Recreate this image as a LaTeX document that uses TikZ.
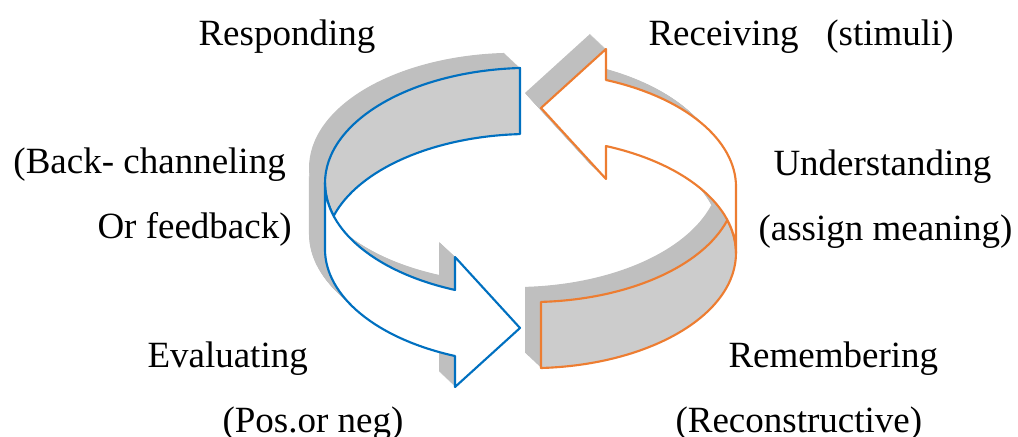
\documentclass[tikz,border=0pt]{standalone}
\usepackage{fontspec}
\setmainfont{Liberation Serif}

\definecolor{ribbonblue}{RGB}{0,112,192}
\definecolor{ribbonorange}{RGB}{237,125,49}

% far half of the band (inner wall) and near half with the head (outer wall)
\newcommand{\ribbonback}{(520,68) arc[start angle=267.07, end angle=163.3, x radius=205.5, y radius=115] arc[start angle=196.7, end angle=267.07, x radius=205.5, y radius=115] -- cycle}
\newcommand{\ribbonfront}{(325,183) arc[start angle=180, end angle=111.55, x radius=205.5, y radius=115] -- (455,257) -- (520,328) -- (455,387) -- (455,356) arc[start angle=111.55, end angle=180, x radius=205.5, y radius=115] -- cycle}

\tikzset{every picture/.style={line width=0.75pt},
  ribbonside/.style={fill={rgb,255:red,191;green,191;blue,191}, draw=none},
  ribbonwall/.style={fill={rgb,255:red,204;green,204;blue,204}, line width=1.6pt, line join=round},
  ribbonface/.style={fill=white, line width=1.6pt, line join=round},
  lbl/.style={font=\fontsize{27.75}{33}\selectfont, inner sep=0pt, anchor=base west}}

\begin{document}
\begin{tikzpicture}[x=0.75pt,y=0.75pt,yscale=-1,xscale=1]
	\useasboundingbox (0,0) rectangle (1018,436);

	%Shape: Circular Arrows (blue, then orange turned half round)
	\foreach \col/\ang in {ribbonblue/0, ribbonorange/180}{
		% depth
		\foreach \k in {1,...,32}
			\fill[ribbonside, shift={(-0.5*\k,-0.47*\k)}, rotate around={\ang:(530.5,218)}] \ribbonback;
		\foreach \k in {1,...,32}
			\fill[ribbonside, shift={(-0.5*\k,-0.47*\k)}, rotate around={\ang:(530.5,218)}] \ribbonfront;
		% walls
		\draw[ribbonwall, draw=\col, rotate around={\ang:(530.5,218)}] \ribbonback;
		\draw[ribbonface, draw=\col, rotate around={\ang:(530.5,218)}] \ribbonfront;
	}

	% Text Node
	\node[lbl] (respond) at (198,45) {Responding};
	% Text Node
	\node[lbl] (receive) at (648,45) {Receiving~~~(stimuli)};
	% Text Node
	\node[lbl] (backchan) at (13,173) {(Back- channeling};
	% Text Node
	\node[lbl] (feedback) at (97,238) {Or feedback)};
	% Text Node
	\node[lbl] (understand) at (773,175) {Understanding};
	% Text Node
	\node[lbl] (assign) at (758,240) {(assign meaning)};
	% Text Node
	\node[lbl] (evaluate) at (147,367) {Evaluating};
	% Text Node
	\node[lbl] (posneg) at (222,432) {(Pos.or neg)};
	% Text Node
	\node[lbl] (remember) at (728,367) {Remembering};
	% Text Node
	\node[lbl] (reconstruct) at (675,432) {(Reconstructive)};

\end{tikzpicture}
\end{document}
